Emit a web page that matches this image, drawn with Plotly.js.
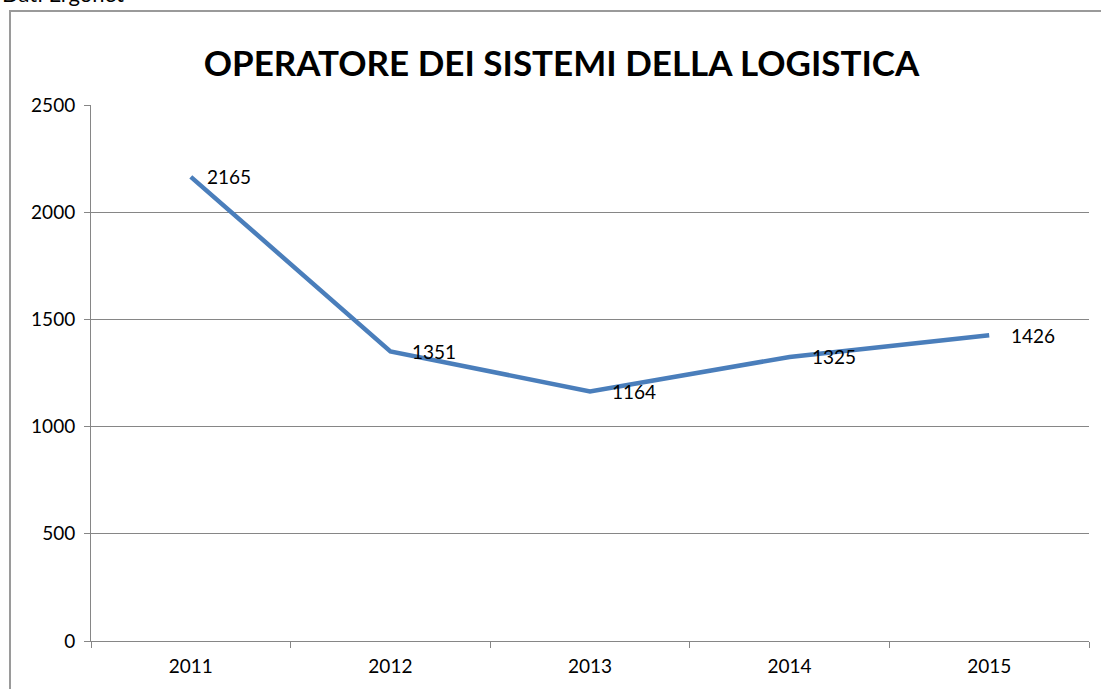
<!DOCTYPE html>
<html>
<head>
<meta charset="utf-8">
<script src="https://cdn.plot.ly/plotly-3.0.1.min.js"></script>
<style>html,body{margin:0;padding:0;background:#fff;}#chart{width:1101px;height:689px;}</style>
</head>
<body>
<div id="chart"></div>
<script>
const years = ['2011', '2012', '2013', '2014', '2015'];
const values = [2165, 1351, 1164, 1325, 1426];
const yTicks = [0, 500, 1000, 1500, 2000, 2500];
const chartTitle = 'OPERATORE DEI SISTEMI DELLA LOGISTICA';
const sourceNote = 'Dati Ergonet';

const FONT = 'Lato, "Open Sans", sans-serif';
const TXT = 19;

const trace = {
  x: years,
  y: values,
  type: 'scatter',
  mode: 'lines',
  line: {color: '#4a7ebb', width: 4.5},
  hoverinfo: 'skip'
};

const L = 91, R = 12, T = 105, B = 48;
const W = 1101, H = 689;
const pw = W - L - R, ph = H - T - B;
const px = v => (v - L) / pw;
const py = v => (H - B - v) / ph;

const labelAnns = years.map((yr, i) => ({
  x: i, y: values[i], xref: 'x', yref: 'y',
  text: String(values[i]),
  xanchor: 'left', yanchor: 'middle',
  xshift: i === 0 ? 14 : 20, yshift: 0,
  showarrow: false,
  font: {family: FONT, size: TXT, color: '#000'}
}));

const layout = {
  width: W, height: H,
  margin: {l: L, r: R, t: T, b: B},
  paper_bgcolor: '#fff',
  plot_bgcolor: '#fff',
  showlegend: false,
  font: {family: FONT, size: TXT, color: '#000'},
  title: {
    text: '<b>' + chartTitle + '</b>',
    font: {family: FONT, size: 35, color: '#000'},
    x: 0.51, xanchor: 'center',
    y: 1 - 64 / H, yanchor: 'middle'
  },
  xaxis: {
    type: 'category',
    range: [-0.5, 4.5],
    showgrid: false,
    showline: true,
    linecolor: '#868686',
    linewidth: 1,
    ticks: 'outside',
    tickson: 'boundaries',
    ticklen: 6,
    tickcolor: '#868686',
    ticklabelstandoff: 8,
    tickfont: {family: FONT, size: TXT, color: '#000'},
    zeroline: false,
    fixedrange: true
  },
  yaxis: {
    range: [0, 2500],
    tickvals: yTicks,
    ticktext: yTicks.map(String),
    showgrid: true,
    gridcolor: '#868686',
    gridwidth: 1,
    showline: true,
    linecolor: '#868686',
    linewidth: 1,
    ticks: 'outside',
    ticklen: 6,
    tickcolor: '#868686',
    ticklabelstandoff: 5,
    tickfont: {family: FONT, size: TXT, color: '#000'},
    zeroline: false,
    fixedrange: true
  },
  shapes: [{
    type: 'rect', xref: 'paper', yref: 'paper',
    x0: px(10), x1: px(1110), y0: py(700), y1: py(11),
    line: {color: '#9a9a9a', width: 2},
    fillcolor: 'rgba(0,0,0,0)',
    layer: 'below'
  }],
  annotations: labelAnns.concat([{
    text: sourceNote,
    xref: 'paper', yref: 'paper',
    x: px(0), xanchor: 'left',
    y: py(9), yanchor: 'bottom',
    showarrow: false,
    font: {family: FONT, size: 22, color: '#000'}
  }])
};

Plotly.newPlot('chart', [trace], layout, {displayModeBar: false, staticPlot: true});
</script>
</body>
</html>
